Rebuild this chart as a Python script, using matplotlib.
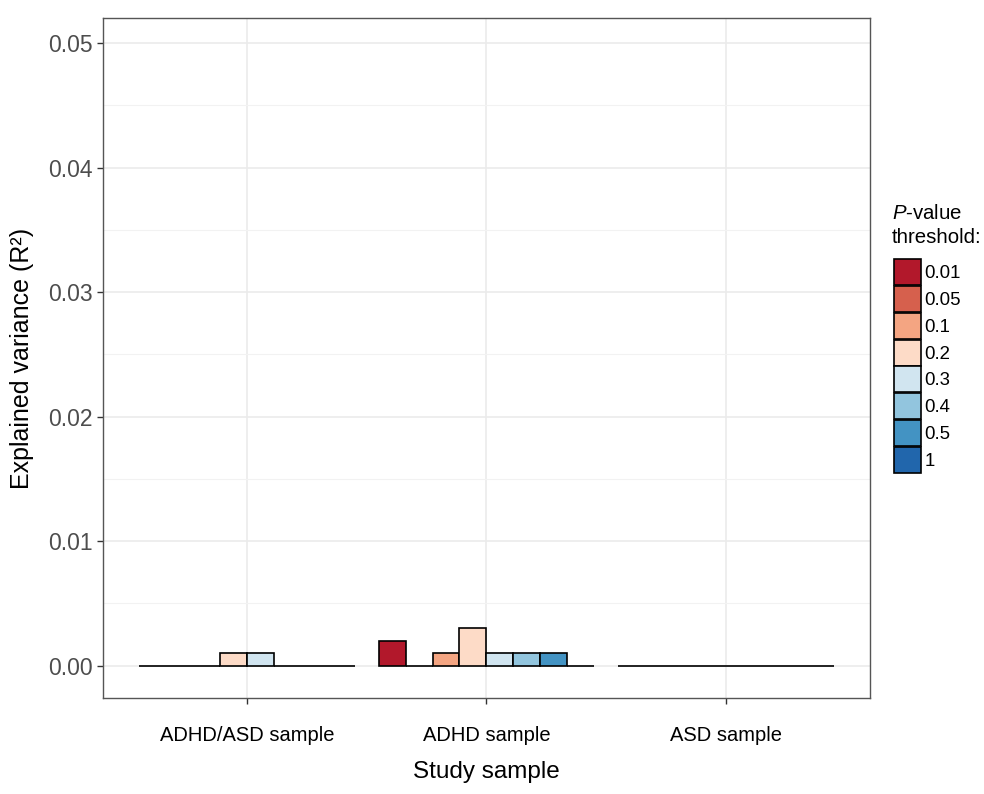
import matplotlib.pyplot as plt
import numpy as np
from matplotlib.patches import Patch

plt.rcParams['font.family'] = ['Liberation Sans', 'DejaVu Sans']
plt.rcParams['mathtext.fontset'] = 'custom'
plt.rcParams['mathtext.rm'] = 'Liberation Sans'
plt.rcParams['mathtext.it'] = 'Liberation Sans:italic'

samples = ['ADHD/ASD sample', 'ADHD sample', 'ASD sample']
thresholds = ['0.01', '0.05', '0.1', '0.2', '0.3', '0.4', '0.5', '1']
colors = ['#B2182B', '#D6604D', '#F4A582', '#FDDBC7',
          '#D1E5F0', '#92C5DE', '#4393C3', '#2166AC']

# explained variance per threshold, one list per sample
r2_adhd_asd = [0, 0, 0, 0.001, 0.001, 0, 0, 0]
r2_adhd = [0.002, 0, 0.001, 0.003, 0.001, 0.001, 0.001, 0]
r2_asd = [0, 0, 0, 0, 0, 0, 0, 0]
values = np.array([r2_adhd_asd, r2_adhd, r2_asd])

fig = plt.figure(figsize=(9.84, 7.94), dpi=100)
ax = fig.add_axes([0.1047, 0.121, 0.7793, 0.856])

x = np.arange(1, len(samples) + 1)
width = 0.9 / len(thresholds)
for i, (thr, col) in enumerate(zip(thresholds, colors)):
    offs = (i - (len(thresholds) - 1) / 2) * width
    ax.bar(x + offs, values[:, i], width=width, color=col,
           edgecolor='black', linewidth=1.2, zorder=3)

ax.set_xlim(0.4, 3.6)
ax.set_ylim(-0.0026, 0.0520)
ax.set_xticks(x)
ax.set_xticklabels(samples, fontsize=14.5, color='black')
ax.set_yticks(np.arange(0, 0.051, 0.01))
ax.set_yticklabels(['%.2f' % v for v in np.arange(0, 0.051, 0.01)],
                   fontsize=16.5, color='#4D4D4D')
ax.set_yticks(np.arange(0.005, 0.051, 0.01), minor=True)
ax.tick_params(axis='y', which='minor', length=0)
ax.tick_params(axis='both', which='major', length=4, color='#333333', width=1)
ax.tick_params(axis='x', pad=16)
ax.grid(True, which='major', color='#EBEBEB', linewidth=1.2, zorder=0)
ax.grid(True, which='minor', axis='y', color='#F2F2F2', linewidth=0.8, zorder=0)
ax.set_axisbelow(True)
for s in ax.spines.values():
    s.set_color('#555555')
    s.set_linewidth(1)

ax.set_xlabel('Study sample', fontsize=17.5, labelpad=12)
ax.set_ylabel('Explained variance (R²)', fontsize=18, labelpad=10)

handles = [Patch(facecolor=c, edgecolor='black', linewidth=1.2) for c in colors]
leg = fig.legend(handles, thresholds, loc='upper left',
                 bbox_to_anchor=(0.9085, 0.674), frameon=False,
                 fontsize=13.4, handlelength=1.45, handleheight=1.77,
                 labelspacing=0.05, handletextpad=0.2, borderpad=0,
                 borderaxespad=0)
fig.text(0.906, 0.689, '$\\it{P}$-value\nthreshold:', fontsize=14.7,
         ha='left', va='bottom', linespacing=1.3)

fig.savefig('out.png', dpi=100)
